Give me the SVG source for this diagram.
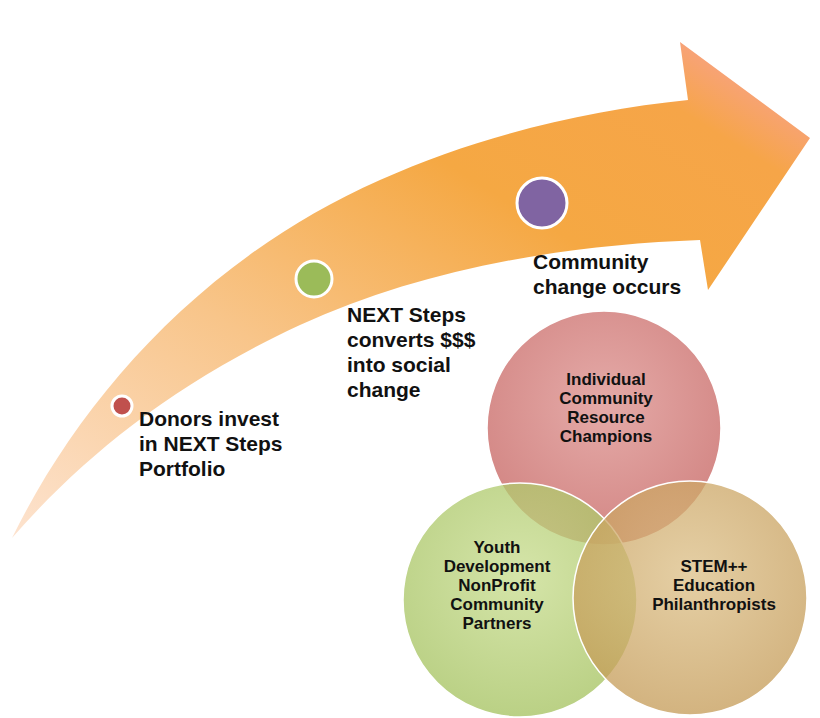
<svg xmlns="http://www.w3.org/2000/svg" width="820" height="718" viewBox="0 0 820 718">
<defs>
<linearGradient id="ag" x1="0" y1="1" x2="1" y2="0">
<stop offset="0" stop-color="#fde3cf"/>
<stop offset="0.35" stop-color="#f8c58a"/>
<stop offset="0.65" stop-color="#f5a843"/>
<stop offset="0.85" stop-color="#f6a548"/>
<stop offset="1" stop-color="#f9a0b0"/>
</linearGradient>
<radialGradient id="rg" cx="0.5" cy="0.4" r="0.6"><stop offset="0" stop-color="#dc8e8b"/><stop offset="1" stop-color="#c45e5b"/></radialGradient>
<radialGradient id="gg" cx="0.5" cy="0.4" r="0.6"><stop offset="0" stop-color="#c7dc8c"/><stop offset="1" stop-color="#a3c15c"/></radialGradient>
<radialGradient id="tg" cx="0.5" cy="0.4" r="0.6"><stop offset="0" stop-color="#dcbf86"/><stop offset="1" stop-color="#c49a55"/></radialGradient>
<style>
.t{font-family:"Liberation Sans",Arial,sans-serif;font-weight:bold;font-size:21px;fill:#111}
.v{font-family:"Liberation Sans",Arial,sans-serif;font-weight:bold;font-size:17px;fill:#111;text-anchor:middle}
.dot{stroke:#fff;stroke-width:3}
.venn{stroke:#fff;stroke-width:1.5;fill-opacity:0.75}
</style>
</defs>
<g id="arrow">
<path d="M12,538 C80,400 200,260 380,180 C480,135 590,110 688,100 L680,42 L810,138 L708,290 L700,240 C560,245 420,270 300,325 C170,385 80,460 12,538 Z" fill="url(#ag)"/>
</g>
<g id="step1"><circle class="dot" cx="122" cy="406" r="10" fill="#c0504d"/>
<text class="t" x="139" y="426">Donors invest</text><text class="t" x="139" y="451">in NEXT Steps</text><text class="t" x="139" y="476">Portfolio</text></g>
<g id="step2"><circle class="dot" cx="314" cy="279" r="18" fill="#9bbb59"/>
<text class="t" x="347" y="322">NEXT Steps</text><text class="t" x="347" y="347">converts $$$</text><text class="t" x="347" y="372">into social</text><text class="t" x="347" y="397">change</text></g>
<g id="step3"><circle class="dot" cx="542" cy="203" r="25" fill="#8064a2"/>
<text class="t" x="533" y="269">Community</text><text class="t" x="533" y="294">change occurs</text></g>
<g id="venn-red"><circle class="venn" cx="604" cy="428" r="117" fill="url(#rg)"/></g>
<g id="venn-green"><circle class="venn" cx="520" cy="600" r="117" fill="url(#gg)"/></g>
<g id="venn-tan"><circle class="venn" cx="690" cy="598" r="117" fill="url(#tg)"/></g>
<g id="labels">
<text class="v" x="606" y="385">Individual</text><text class="v" x="606" y="404">Community</text><text class="v" x="606" y="423">Resource</text><text class="v" x="606" y="442">Champions</text>
<text class="v" x="497" y="553">Youth</text><text class="v" x="497" y="572">Development</text><text class="v" x="497" y="591">NonProfit</text><text class="v" x="497" y="610">Community</text><text class="v" x="497" y="629">Partners</text>
<text class="v" x="714" y="572">STEM++</text><text class="v" x="714" y="591">Education</text><text class="v" x="714" y="610">Philanthropists</text>
</g>
</svg>
